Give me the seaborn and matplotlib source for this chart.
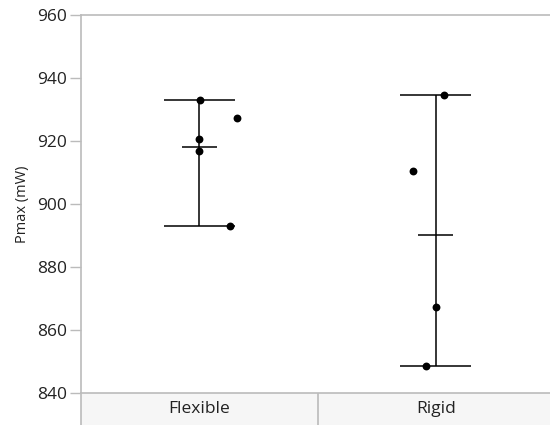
import numpy as np
import pandas as pd
import matplotlib
matplotlib.use("Agg")
import matplotlib.pyplot as plt
import seaborn as sns

categories = ["Flexible", "Rigid"]
flexible_values = [933.0, 920.6, 916.8, 927.3, 893.0]
flexible_offsets = [0.004, 0.0, 0.0, 0.16, 0.13]
rigid_values = [934.6, 910.5, 867.3, 848.6]
rigid_offsets = [0.034, -0.097, 0.0, -0.042]
y_ticks = [840, 860, 880, 900, 920, 940, 960]

sns.set_theme(style="white")
plt.rcParams['font.family'] = ['Open Sans', 'DejaVu Sans']

df = pd.DataFrame({
    "group": ["Flexible"] * len(flexible_values) + ["Rigid"] * len(rigid_values),
    "value": flexible_values + rigid_values,
    "offset": flexible_offsets + rigid_offsets,
})
df["code"] = df["group"].map({c: i for i, c in enumerate(categories)})
df["xpos"] = df["code"] + df["offset"]

W = (554 - 81) / 550
fig = plt.figure(figsize=(5.5, 4.25), dpi=100)
ax = fig.add_axes([81/550, 1 - 393/425, W, (393 - 15)/425])
band = fig.add_axes([81/550, 0, W, 1 - 393/425])

sns.scatterplot(data=df, x="xpos", y="value", color="black", s=32,
                edgecolor="black", linewidth=0, ax=ax, legend=False, zorder=3)

stats = df.groupby("code")["value"].agg(["min", "max", "mean"])
for code, row in stats.iterrows():
    ax.vlines(code, row["min"], row["max"], color="black", lw=1.1, zorder=2)
    ax.hlines([row["min"], row["max"]], code - 0.15, code + 0.15, color="black", lw=1.1, zorder=2)
    ax.hlines(row["mean"], code - 0.075, code + 0.075, color="black", lw=1.1, zorder=2)

ax.set_xlim(-0.5, 1.5)
ax.set_ylim(840, 960)
ax.set_yticks(y_ticks)
ax.set_xticks([])
ax.set_xlabel("")
ax.set_ylabel("Pmax (mW)", fontsize=10.5, color="#222222", labelpad=5)
ax.tick_params(axis="y", which="both", left=True, length=8, width=1, color="#bbbbbb",
               labelsize=12.5, labelcolor="#222222", pad=2)
for s in ["right", "bottom"]:
    ax.spines[s].set_visible(False)
for s in ["left", "top"]:
    ax.spines[s].set_color("#bbbbbb")
    ax.spines[s].set_linewidth(1.2)

band.set_facecolor("#f6f6f6")
band.set_xlim(-0.5, 1.5)
band.set_ylim(0, 1)
band.set_xticks([])
band.set_yticks([])
for s in ["right", "bottom"]:
    band.spines[s].set_visible(False)
for s in ["left", "top"]:
    band.spines[s].set_color("#bbbbbb")
    band.spines[s].set_linewidth(1.2)
band.axvline(0.5, color="#bbbbbb", lw=1.2)
for i, c in enumerate(categories):
    band.text(i, 0.5, c, ha="center", va="center", fontsize=12.5, color="#222222")

fig.savefig("out.png", dpi=100)
